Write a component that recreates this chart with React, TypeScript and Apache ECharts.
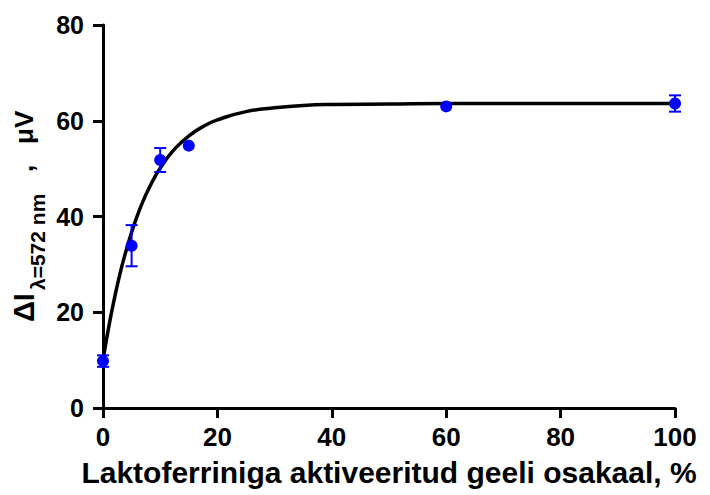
import React, { useEffect, useRef } from "react";
import * as echarts from "echarts";

// measured points
const xValues = [0, 5, 10, 15, 60, 100];
const meanValues = [9.8, 33.9, 51.8, 54.8, 63.0, 63.6];
const errValues = [1.2, 4.3, 2.5, 0, 0, 1.7];

// fitted curve
const curveX = [0, 1, 2, 3, 4, 5, 6, 7, 8, 9, 10, 12, 14, 16, 18, 20, 25, 30, 35, 40, 50, 60, 80, 100];
const curveY = [10.0, 16.9, 22.9, 28.2, 32.7, 36.7, 40.2, 43.2, 45.8, 48.1, 50.1, 53.4, 55.8, 57.7, 59.1, 60.2, 61.9, 62.7, 63.2, 63.4, 63.5, 63.6, 63.6, 63.6];

const xTicks = [0, 20, 40, 60, 80, 100];
const yTicks = [0, 20, 40, 60, 80];

const FONT = "'Liberation Sans', Arial, sans-serif";
const BLUE = "#0000ff";

export default function App() {
  const ref = useRef<HTMLDivElement>(null);
  useEffect(() => {
    if (!ref.current) return;
    const chart = echarts.init(ref.current, null, { renderer: "svg" });
    const errData = xValues.map((x, i) => [x, meanValues[i] - errValues[i], meanValues[i] + errValues[i]]);
    const option: any = {
      animation: false,
      backgroundColor: "#ffffff",
      grid: { left: 103, right: 35, top: 25, bottom: 87, containLabel: false },
      xAxis: {
        type: "value",
        min: xTicks[0],
        max: xTicks[xTicks.length - 1],
        interval: 20,
        name: "Laktoferriniga aktiveeritud geeli osakaal, %",
        nameLocation: "middle",
        nameGap: 49,
        nameTextStyle: { fontFamily: FONT, fontWeight: "bold", fontSize: 30, color: "#000" },
        axisLine: { show: true, lineStyle: { color: "#000", width: 3 } },
        axisTick: { show: true, inside: false, length: 10, lineStyle: { color: "#000", width: 3 } },
        axisLabel: { fontFamily: FONT, fontWeight: "bold", fontSize: 26, color: "#000", margin: 16 },
        splitLine: { show: false },
      },
      yAxis: {
        type: "value",
        min: yTicks[0],
        max: yTicks[yTicks.length - 1],
        interval: 20,
        axisLine: { show: true, lineStyle: { color: "#000", width: 3 } },
        axisTick: { show: true, inside: false, length: 10, lineStyle: { color: "#000", width: 3 } },
        axisLabel: { fontFamily: FONT, fontWeight: "bold", fontSize: 25, color: "#000", margin: 19 },
        splitLine: { show: false },
      },
      graphic: [
        {
          type: "group",
          x: 24,
          y: 322,
          rotation: Math.PI / 2,
          children: [
            {
              type: "text",
              x: 0,
              y: 0,
              style: { text: "ΔI", fontFamily: FONT, fontWeight: "bold", fontSize: 29, fill: "#000", align: "left", verticalAlign: "middle" },
            },
            {
              type: "text",
              x: 32,
              y: 13,
              style: { text: "λ=572 nm", fontFamily: FONT, fontWeight: "bold", fontSize: 21, fill: "#000", align: "left", verticalAlign: "middle" },
            },
            {
              type: "text",
              x: 150,
              y: 0,
              style: { text: ",", fontFamily: FONT, fontWeight: "bold", fontSize: 26, fill: "#000", align: "left", verticalAlign: "middle" },
            },
            {
              type: "text",
              x: 178,
              y: 0,
              style: { text: "μV", fontFamily: FONT, fontWeight: "bold", fontSize: 26, fill: "#000", align: "left", verticalAlign: "middle" },
            },
          ],
        },
      ],
      series: [
        {
          type: "line",
          data: curveX.map((x, i) => [x, curveY[i]]),
          showSymbol: false,
          smooth: 0.5,
          lineStyle: { color: "#000", width: 3.5 },
          z: 2,
        },
        {
          type: "scatter",
          data: xValues.map((x, i) => [x, meanValues[i]]),
          symbol: "circle",
          symbolSize: 12,
          itemStyle: { color: BLUE, opacity: 1 },
          z: 3,
        },
        {
          type: "custom",
          data: errData,
          encode: { x: 0, y: [1, 2] },
          z: 4,
          renderItem: (params: any, api: any) => {
            const x = api.value(0);
            const lo = api.value(1);
            const hi = api.value(2);
            if (hi - lo < 0.01) return null;
            const pHi = api.coord([x, hi]);
            const pLo = api.coord([x, lo]);
            const half = 6;
            const style = { stroke: BLUE, lineWidth: 2 };
            return {
              type: "group",
              children: [
                { type: "line", shape: { x1: pHi[0], y1: pHi[1], x2: pLo[0], y2: pLo[1] }, style },
                { type: "line", shape: { x1: pHi[0] - half, y1: pHi[1], x2: pHi[0] + half, y2: pHi[1] }, style },
                { type: "line", shape: { x1: pLo[0] - half, y1: pLo[1], x2: pLo[0] + half, y2: pLo[1] }, style },
              ],
            };
          },
        },
      ],
    };
    chart.setOption(option);
    return () => chart.dispose();
  }, []);
  return <div ref={ref} style={{ position: "absolute", left: 0, top: 0, width: 710, height: 495 }} />;
}
